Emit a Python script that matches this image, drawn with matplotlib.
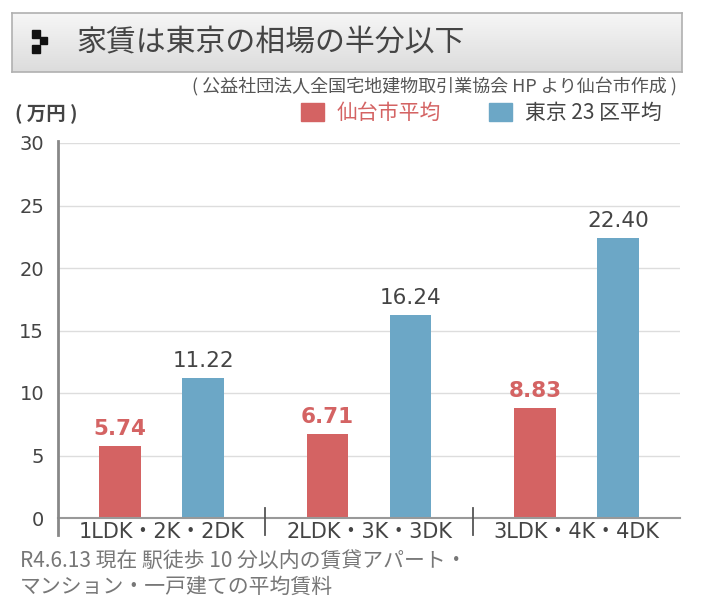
import numpy as np
import matplotlib
matplotlib.use('Agg')
import matplotlib.pyplot as plt
from matplotlib.patches import Rectangle, Patch

plt.rcParams['font.family'] = ['Noto Sans CJK JP', 'DejaVu Sans']

# data (万円)
groups = ['1LDK・2K・2DK', '2LDK・3K・3DK', '3LDK・4K・4DK']
sendai = [5.74, 6.71, 8.83]
tokyo = [11.22, 16.24, 22.40]
series_names = ['仙台市平均', '東京 23 区平均']

red = '#d46363'
blue = '#6ca7c6'
grey_txt = '#444444'

W, H = 702, 606
fig = plt.figure(figsize=(W / 100, H / 100), dpi=100)

# ---- title box with gradient
tax = fig.add_axes([12 / W, 1 - 72 / H, 670 / W, 59 / H])
grad = np.linspace(0, 1, 100).reshape(-1, 1)
tax.imshow(grad, cmap=matplotlib.colors.LinearSegmentedColormap.from_list('g', ['#f6f6f6', '#dcdcdc']),
           aspect='auto', extent=[0, 670, 59, 0])
tax.set_xlim(0, 670)
tax.set_ylim(59, 0)
tax.set_xticks([])
tax.set_yticks([])
for s in tax.spines.values():
    s.set_color('#b0b0b0')
    s.set_linewidth(1.2)
for (x0, y0, w, h) in [(20, 17, 8, 8), (28, 24, 7, 7), (20, 32, 8, 8)]:
    tax.add_patch(Rectangle((x0, y0), w, h, color='#111111'))
tax.text(64, 30, '家賃は東京の相場の半分以下', fontsize=21.5, color=grey_txt,
         va='center', ha='left')

# ---- main axes
ax = fig.add_axes([58 / W, 88 / H, 622 / W, 375 / H])
x = np.arange(len(groups))
width = 0.2
r1 = ax.bar(x - width, sendai, width, color=red, label=series_names[0], zorder=3)
r2 = ax.bar(x + width, tokyo, width, color=blue, label=series_names[1], zorder=3)

ax.set_xlim(-0.5, 2.5)
ax.set_ylim(0, 30)
ax.set_yticks(range(0, 31, 5))
ax.grid(axis='y', color='#dddddd', linewidth=1, zorder=0)
ax.tick_params(axis='y', length=0, pad=10, labelsize=14, labelcolor=grey_txt)
for lab in ax.get_yticklabels():
    lab.set_family('DejaVu Sans')
ax.set_xticks(x)
ax.set_xticklabels(groups, family=['DejaVu Sans', 'Noto Sans CJK JP'])
ax.tick_params(axis='x', length=0, pad=3, labelsize=15, labelcolor=grey_txt)

for s in ['top', 'right', 'left']:
    ax.spines[s].set_visible(False)
ax.spines['bottom'].set_color('#999999')
ax.spines['bottom'].set_linewidth(1.5)
ax.spines['bottom'].set_zorder(4)

# y axis line extending below zero, and group separators
ax.plot([0, 0], [-0.045, 1.005], transform=ax.transAxes, color='#888888',
        linewidth=2, clip_on=False, zorder=5)
for sep in [1 / 3, 2 / 3]:
    ax.plot([sep, sep], [-0.045, 0.027], transform=ax.transAxes, color='#555555',
            linewidth=1.3, clip_on=False, zorder=5)

# value labels
for rect, v in zip(r1, sendai):
    ax.annotate(f'{v:.2f}', xy=(rect.get_x() + rect.get_width() / 2, v),
                xytext=(0, 5), textcoords='offset points', ha='center', va='bottom',
                fontsize=15.5, fontweight='bold', color=red, family='DejaVu Sans')
for rect, v in zip(r2, tokyo):
    ax.annotate(f'{v:.2f}', xy=(rect.get_x() + rect.get_width() / 2, v),
                xytext=(0, 5), textcoords='offset points', ha='center', va='bottom',
                fontsize=15.5, color=grey_txt, family='DejaVu Sans')

# legend
leg = fig.legend(handles=[Patch(color=red), Patch(color=blue)], labels=series_names,
                 loc='center right', bbox_to_anchor=(680 / W, 1 - 113 / H), ncol=2,
                 frameon=False, fontsize=15, handlelength=1.1, handleheight=1.0,
                 columnspacing=2.3, handletextpad=0.6)
leg.get_texts()[0].set_color(red)
leg.get_texts()[1].set_color(grey_txt)

# text annotations
fig.text(677 / W, 1 - 87 / H, '( 公益社団法人全国宅地建物取引業協会 HP より仙台市作成 )',
         ha='right', va='center', fontsize=13, color='#555555')
fig.text(15 / W, 1 - 114 / H, '( 万円 )', ha='left', va='center', fontsize=14,
         color=grey_txt, fontweight='bold')
fig.text(20 / W, 1 - 561 / H, 'R4.6.13 現在 駅徒歩 10 分以内の賃貸アパート・',
         ha='left', va='center', fontsize=15, color='#777777')
fig.text(20 / W, 1 - 587 / H, 'マンション・一戸建ての平均賃料',
         ha='left', va='center', fontsize=15, color='#777777')

fig.savefig('out.png', dpi=100)
